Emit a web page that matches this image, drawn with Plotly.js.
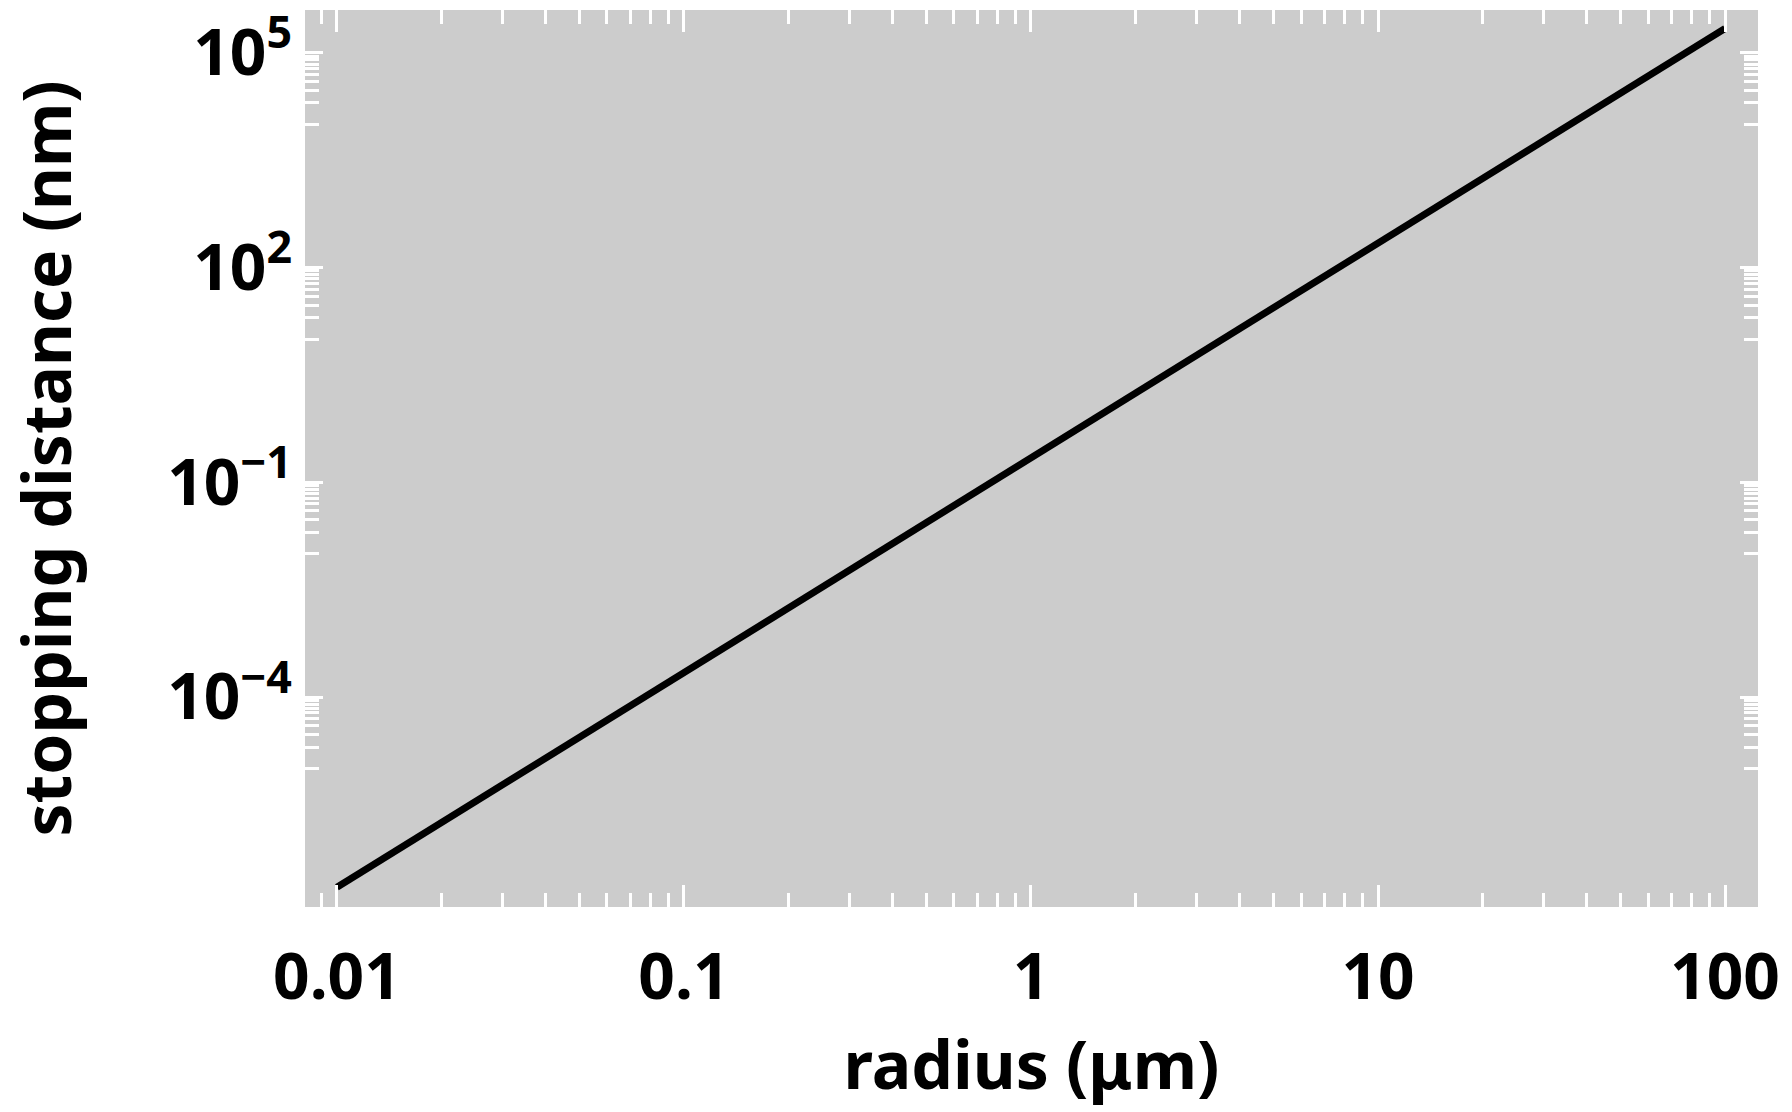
<!DOCTYPE html>
<html><head><meta charset="utf-8">
<script src="https://cdn.plot.ly/plotly-3.0.1.min.js"></script>
<style>html,body{margin:0;padding:0;background:#fff;} #chart{width:1792px;height:1112px;}</style>
</head><body><div id="chart"></div>
<script>
const radius = [0.01, 0.1, 1, 10, 100];
const stoppingDistance = [2.2e-7, 2.2e-4, 0.22, 220, 2.2e5];
const xTickVals = [0.01, 0.1, 1, 10, 100];
const xTickText = ["0.01", "0.1", "1", "10", "100"];
const yTickVals = [1e-4, 1e-1, 1e2, 1e5];
const yTickText = ["10<sup>\u2212" + "4</sup>", "10<sup>\u2212" + "1</sup>", "10<sup>2</sup>", "10<sup>5</sup>"];
const xTitle = "radius (\u03bcm)";
const yTitle = "stopping distance (nm)";

const xMinor = [];
for (let e = -3; e <= 2; e++) for (let m = 2; m <= 9; m++) xMinor.push(m * Math.pow(10, e));
const yMinor = [];
yTickVals.forEach(v => { for (let m = 1; m <= 9; m++) yMinor.push(m * v / 10); });

const fam = "Noto Sans, Open Sans, sans-serif";
const tickFont = {family: fam, size: 64, color: "#000", weight: 700};
const titleFont = {family: fam, size: 66, color: "#000", weight: 700};

const trace = {
  x: radius, y: stoppingDistance, type: "scatter", mode: "lines",
  line: {color: "#000", width: 7}, showlegend: false, hoverinfo: "skip"
};

const layout = {
  width: 1792, height: 1112,
  margin: {l: 305, r: 34, t: 10, b: 205},
  paper_bgcolor: "#fff", plot_bgcolor: "#cccccc",
  font: tickFont,
  showlegend: false,
  xaxis: {
    type: "log", range: [-2.092, 2.095],
    tickmode: "array", tickvals: xTickVals, ticktext: xTickText,
    ticks: "inside", ticklen: 22, tickwidth: 3, tickcolor: "#fff",
    mirror: "allticks", showline: false, showgrid: false, zeroline: false,
    tickfont: tickFont, ticklabelstandoff: 27,
    minor: {tickmode: "array", tickvals: xMinor, ticks: "inside", ticklen: 14, tickwidth: 3, tickcolor: "#fff", showgrid: false},
    title: {text: xTitle, font: titleFont, standoff: 24},
    automargin: false
  },
  yaxis: {
    type: "log", range: [-6.933, 5.60],
    tickmode: "array", tickvals: yTickVals, ticktext: yTickText,
    ticks: "inside", ticklen: 18, tickwidth: 3, tickcolor: "#fff",
    mirror: "allticks", showline: false, showgrid: false, zeroline: false,
    tickfont: tickFont, ticklabelstandoff: 12,
    minor: {tickmode: "array", tickvals: yMinor, ticks: "inside", ticklen: 14, tickwidth: 3, tickcolor: "#fff", showgrid: false},
    title: {text: yTitle, font: titleFont, standoff: 74},
    automargin: false
  }
};

Plotly.newPlot("chart", [trace], layout, {displayModeBar: false, staticPlot: true});
</script>
</body></html>
